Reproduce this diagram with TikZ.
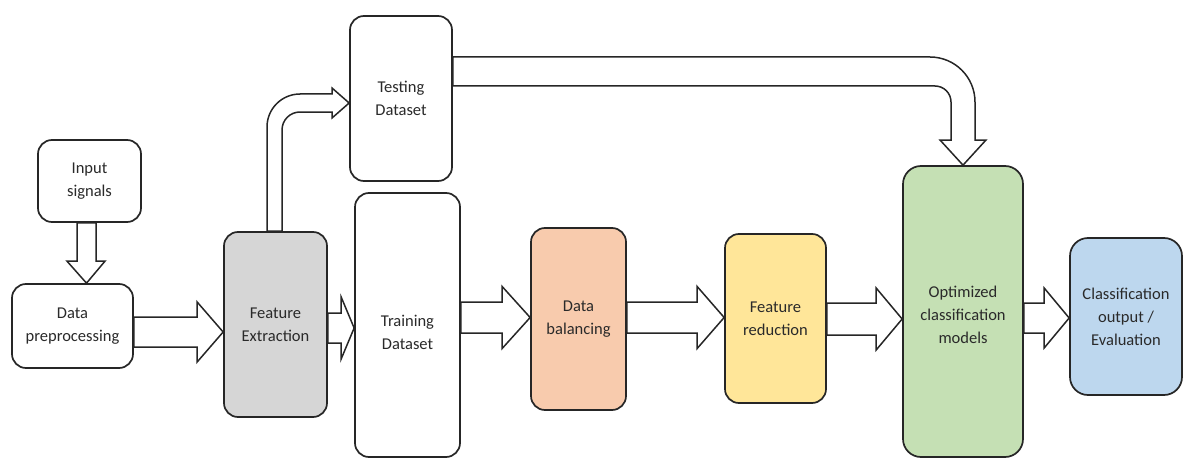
\documentclass[tikz,border=0pt]{standalone}
\usepackage{fontspec}
\setmainfont{Carlito}
\usetikzlibrary{calc}
\definecolor{bord}{HTML}{262626}
\definecolor{txt}{HTML}{2A2A2A}
\definecolor{fegray}{HTML}{D6D6D6}
\definecolor{balfill}{HTML}{F8CBAD}
\definecolor{redfill}{HTML}{FFE699}
\definecolor{optfill}{HTML}{C5E0B4}
\definecolor{outfill}{HTML}{BDD7EE}
\pgfdeclarelayer{bg}
\pgfsetlayers{bg,main}
% horizontal block arrow: from, to, y centre, shaft half, head half, head length
\newcommand\hblk[6]{%
  \draw[blk] let \p1=(#1.east), \p2=(#2.west) in
    (\x1,{(#3+#4)*1pt}) -- ({\x2-#6pt},{(#3+#4)*1pt}) -- ({\x2-#6pt},{(#3+#5)*1pt})
    -- (\x2,{#3*1pt}) -- ({\x2-#6pt},{(#3-#5)*1pt}) -- ({\x2-#6pt},{(#3-#4)*1pt})
    -- (\x1,{(#3-#4)*1pt}) -- cycle;}
\begin{document}
\begin{tikzpicture}[x=1pt,y=1pt,
  lbl/.style={align=center, text=txt, font=\fontsize{16.5}{23}\selectfont},
  box/.style={draw=bord, line width=1.7pt, rounded corners=14pt, inner sep=0pt,
    lbl, fill=white},
  blk/.style={draw=bord, line width=1.5pt, fill=white, line join=miter}]
\useasboundingbox (0,0) rectangle (1184,459);

\node[box, minimum width=103pt, minimum height=82pt] (inp) at (89.5,278) {Input\\signals};
\node[box, minimum width=121pt, minimum height=84pt] (pre) at (72.5,133) {Data\\preprocessing};
\node[box, fill=fegray, minimum width=103pt, minimum height=185pt] (fe) at (275.5,134.5) {Feature\\Extraction};
\node[box, minimum width=102pt, minimum height=165pt] (test) at (401,360.5) {Testing\\Dataset};
\node[box, minimum width=105pt, minimum height=264pt,
  label={[lbl, yshift=-7pt]center:Training\\Dataset}] (train) at (407.5,134) {};
\node[box, fill=balfill, minimum width=95pt, minimum height=182pt] (bal) at (578.5,140) {Data\\balancing};
\node[box, fill=redfill, minimum width=101pt, minimum height=169pt] (red) at (775.5,140.5) {Feature\\reduction};
\node[box, fill=optfill, rounded corners=18pt, minimum width=120pt, minimum height=291pt,
  label={[lbl, yshift=-3pt]center:Optimized\\classification\\models}] (opt) at (963,147.5) {};
\node[box, fill=outfill, rounded corners=18pt, minimum width=112pt, minimum height=157pt] (out) at (1126,142.5) {Classification\\output /\\Evaluation};

\begin{pgfonlayer}{bg}
% Input -> preprocessing (vertical)
\draw[blk] let \p1=(inp.south), \p2=(pre.north) in
  (77pt,\y1) -- (77pt,{\y2+22pt}) -- (67pt,{\y2+22pt}) -- (86.5pt,\y2)
  -- (105pt,{\y2+22pt}) -- (96pt,{\y2+22pt}) -- (96pt,\y1) -- cycle;
\hblk{pre}{fe}{127}{15}{30}{26}
\hblk{fe}{train}{131}{15}{31}{13}
\hblk{train}{bal}{141.5}{15.5}{31}{28}
\hblk{bal}{red}{141.5}{15.5}{31}{27}
\hblk{red}{opt}{140}{16}{31}{26}
\hblk{opt}{out}{141}{15}{30}{25}
% Feature extraction -> testing dataset (bent)
\draw[blk] let \p1=(fe.north), \p2=(test.west) in
  (267pt,\y1) -- (267pt,332pt) arc[start angle=180,end angle=90,radius=33pt]
  -- (332pt,365pt) -- (332pt,371pt) -- (\x2,356pt) -- (332pt,341pt) -- (332pt,347pt)
  -- (300pt,347pt) arc[start angle=90,end angle=180,radius=18pt] -- (282pt,\y1) -- cycle;
% Testing dataset -> optimized models (bent)
\draw[blk] let \p1=(test.east), \p2=(opt.north) in
  (\x1,402pt) -- ({\x2+12pt-45pt},402pt) arc[start angle=90,end angle=0,radius=45pt]
  -- ({\x2+12pt},319pt) -- ({\x2+23pt},319pt) -- (\x2,\y2) -- ({\x2-23pt},319pt)
  -- ({\x2-12pt},319pt) -- ({\x2-12pt},357pt) arc[start angle=0,end angle=90,radius=16pt]
  -- (\x1,373pt) -- cycle;
\end{pgfonlayer}
\end{tikzpicture}
\end{document}
